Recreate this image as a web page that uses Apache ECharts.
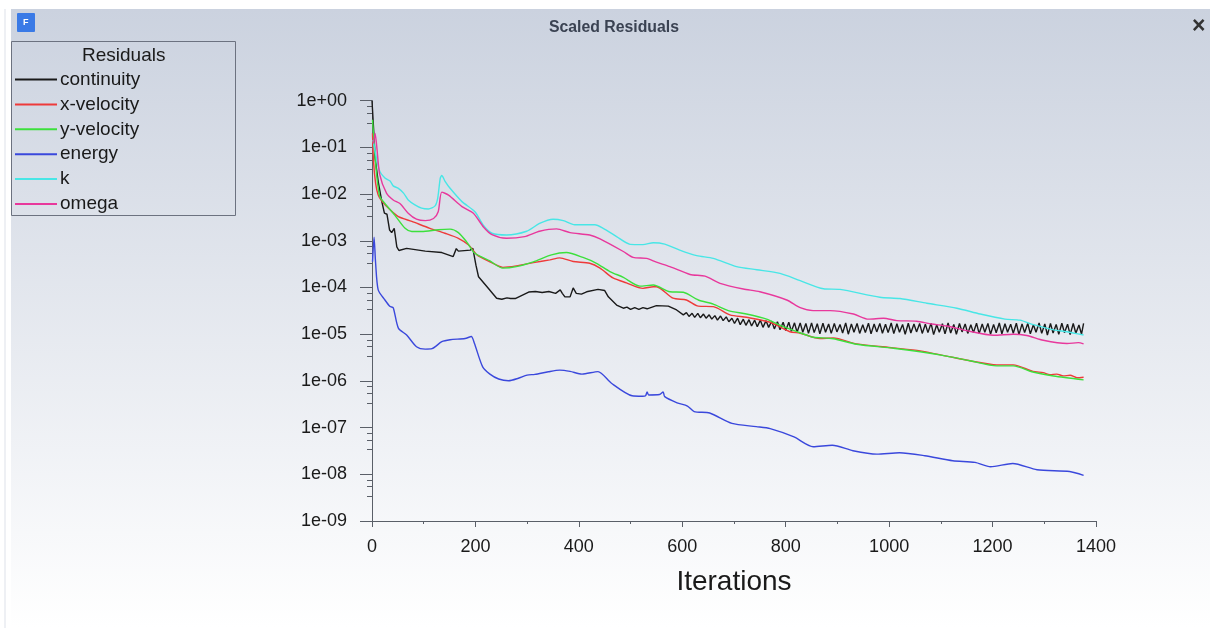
<!DOCTYPE html>
<html><head><meta charset="utf-8"><style>html,body{margin:0;padding:0;background:#fff}#c{width:1210px;height:628px}</style>
<script src="https://cdn.jsdelivr.net/npm/echarts@6/dist/echarts.min.js"></script></head><body><div id="c"></div>
<script>
const seriesNames = ['continuity','x-velocity','y-velocity','energy','k','omega'];
const yTickLabels = ['1e-09','1e-08','1e-07','1e-06','1e-05','1e-04','1e-03','1e-02','1e-01','1e+00'];
const yMinorFactors = [0.77,0.55,0.34];

const continuityIter = [0,3,6,12,19,24,29,34,38,43,48,52,67,103,135,157,163,167,190,195,201,206,222,241,251,261,268,277,303,316,329,342,355,364,368,373,383,389,395,405,415,437,450,457,473,486,493,500,508,516,524,532,550,573,589,
602,608,613,619,624,630,635,641,646,652,657,663,668,674,679,685,690,696,701,707,712,718,723,729,734,740,745,751,756,762,767,773,778,784,789,795,800,806,811,817,822,828,833,839,844,
850,855,861,866,872,877,883,888,894,899,905,910,916,921,927,932,938,943,949,954,960,965,971,976,982,987,993,998,1004,1009,1015,1020,1026,1031,1037,1042,1048,1053,1059,1064,1070,1075,1081,1086,1092,1097,1103,1108,1114,1119,1125,1130,1136,1141,1147,1152,1158,1163,1169,1174,1180,1185,1191,1196,1202,1207,1213,1218,1224,1229,1235,1240,1246,1251,1257,1262,1268,1273,1279,1284,1290,1295,1301,1306,1312,1317,1323,1328,1334,1339,1345,1350,1356,1361,1367,1372,1376];
const continuityValues = [1,2.6e-1,5.9e-2,1.85e-2,6.9e-3,3.9e-3,3.7e-3,1.7e-3,1.5e-3,1.85e-3,7.4e-4,6.2e-4,6.9e-4,6e-4,5.6e-4,4.6e-4,6.8e-4,6e-4,6.3e-4,6.9e-4,3e-4,1.7e-4,1.05e-4,5.9e-5,5.6e-5,6e-5,5.8e-5,5.8e-5,8e-5,8.2e-5,7.8e-5,8.2e-5,7.5e-5,8.9e-5,7.5e-5,6.3e-5,6.3e-5,9.8e-5,7.5e-5,7.2e-5,8.1e-5,9.1e-5,8.6e-5,6.3e-5,4.2e-5,3.6e-5,3.8e-5,3.4e-5,3.7e-5,3.4e-5,3.7e-5,3.5e-5,4.1e-5,4e-5,3.3e-5,
2.6e-5,2.9e-5,2.4e-5,2.8e-5,2.3e-5,2.8e-5,2.25e-5,2.7e-5,2.2e-5,2.6e-5,2.1e-5,2.5e-5,2e-5,2.45e-5,1.95e-5,2.35e-5,1.85e-5,2.2e-5,1.7e-5,2.2e-5,1.6e-5,2.1e-5,1.55e-5,2.05e-5,1.5e-5,2e-5,1.45e-5,2e-5,1.4e-5,1.95e-5,1.4e-5,1.9e-5,1.3e-5,1.85e-5,1.25e-5,1.8e-5,1.2e-5,1.8e-5,1.15e-5,1.75e-5,1.1e-5,1.75e-5,1.1e-5,1.7e-5,1.05e-5,
1.75e-5,1.08e-5,1.68e-5,1.02e-5,1.72e-5,1.1e-5,1.65e-5,1.04e-5,1.7e-5,1.12e-5,1.62e-5,1.06e-5,1.74e-5,1e-5,1.66e-5,1.1e-5,1.7e-5,1.04e-5,1.6e-5,1.08e-5,1.72e-5,1.02e-5,1.66e-5,1.12e-5,1.7e-5,1.05e-5,1.63e-5,1.08e-5,1.74e-5,1.03e-5,1.68e-5,1.1e-5,1.62e-5,1e-5,1.72e-5,1.06e-5,1.66e-5,1.12e-5,1.7e-5,1.04e-5,1.64e-5,1.08e-5,1.72e-5,.98e-5,1.6e-5,1.1e-5,1.68e-5,1.02e-5,1.74e-5,1.06e-5,1.62e-5,1e-5,1.7e-5,1.12e-5,1.66e-5,1.04e-5,1.6e-5,1.08e-5,1.72e-5,1.03e-5,1.66e-5,1.1e-5,1.7e-5,1e-5,1.62e-5,1.07e-5,1.74e-5,1.02e-5,1.68e-5,1.1e-5,1.64e-5,1.05e-5,1.72e-5,.98e-5,1.66e-5,1.08e-5,1.7e-5,1.02e-5,1.6e-5,1.1e-5,1.74e-5,1.04e-5,1.66e-5,.96e-5,1.7e-5,1.06e-5,1.62e-5,1e-5,1.72e-5,1.08e-5,1.64e-5,.98e-5,1.7e-5,1.05e-5,1.58e-5,1e-5,1.7e-5,1.04e-5,1.3e-5];

const xVelIter = [1,3,7,12,19,35,51,77,112,141,167,187,203,228,253,279,312,344,363,389,421,441,466,492,524,544,550,582,608,631,660,692,724,770,808,828,866,892,937,1008,1060,1111,1156,1208,1240,1278,1298,1311,1324,1337,1350,1363,1376];
const xVelValues = [2e-1,4.9e-2,1.7e-2,9.5e-3,7.1e-3,4.6e-3,3.3e-3,2.6e-3,1.85e-3,1.45e-3,1.13e-3,8.1e-4,5e-4,3.55e-4,2.7e-4,2.9e-4,3.4e-4,3.9e-4,4.3e-4,3.6e-4,3.3e-4,2.6e-4,1.6e-4,1.26e-4,9.6e-5,1.04e-4,1.04e-4,5.9e-5,5.4e-5,4e-5,3.9e-5,2.6e-5,2.3e-5,1.8e-5,1.13e-5,1.05e-5,8.1e-6,8.3e-6,6.2e-6,5.1e-6,4.4e-6,3.4e-6,2.7e-6,2.2e-6,2.2e-6,1.6e-6,1.5e-6,1.36e-6,1.4e-6,1.28e-6,1.32e-6,1.17e-6,1.2e-6];

const yVelIter = [1,4,9,15,25,44,64,77,96,128,151,167,183,199,228,253,279,312,347,376,408,434,460,486,518,544,576,602,631,660,689,724,763,795,840,853,892,937,1008,1060,1111,1156,1208,1240,1278,1318,1376];
const yVelValues = [3.9e-1,1.3e-1,2.6e-2,8.9e-3,6.3e-3,3.55e-3,1.85e-3,1.58e-3,1.58e-3,1.73e-3,1.78e-3,1.5e-3,9.5e-4,5.4e-4,3.7e-4,2.6e-4,2.8e-4,3.55e-4,5e-4,5.6e-4,4.4e-4,3.3e-4,2.2e-4,1.65e-4,1.07e-4,1.13e-4,8.1e-5,7.9e-5,5.4e-5,4.4e-5,3.2e-5,2.7e-5,2.1e-5,1.45e-5,9.6e-6,8.6e-6,8e-6,6.1e-6,5e-6,4.2e-6,3.4e-6,2.7e-6,2.1e-6,2.1e-6,1.55e-6,1.27e-6,1.05e-6];

const energyIter = [1,4,7,12,25,35,41,51,67,86,103,116,135,151,180,192,198,214,228,245,264,283,300,315,341,363,383,406,437,463,503,523,529,532,535,556,563,566,590,610,623,653,696,743,770,816,853,890,930,976,1020,1069,1123,1166,1196,1239,1286,1349,1376];
const energyValues = [3.55e-4,1.2e-3,3.3e-4,8.9e-5,5.4e-5,3.9e-5,3.7e-5,1.35e-5,9.6e-6,5.4e-6,4.8e-6,4.9e-6,6.9e-6,7.6e-6,8.1e-6,8.9e-6,6.4e-6,2e-6,1.4e-6,1.1e-6,1.01e-6,1.14e-6,1.33e-6,1.38e-6,1.57e-6,1.7e-6,1.6e-6,1.4e-6,1.58e-6,8.9e-7,4.8e-7,4.7e-7,4.8e-7,5.8e-7,5e-7,5.1e-7,5.8e-7,4.6e-7,3.4e-7,2.9e-7,2.2e-7,2.05e-7,1.23e-7,1.05e-7,9.5e-8,6.3e-8,3.9e-8,4.2e-8,3.2e-8,2.7e-8,2.9e-8,2.5e-8,1.95e-8,1.8e-8,1.45e-8,1.7e-8,1.25e-8,1.15e-8,9.5e-9];

const kIter = [2,14,25,35,41,51,61,70,83,96,109,122,127,132,135,141,151,174,199,216,232,260,299,324,350,370,392,431,447,473,499,524,544,566,595,628,660,705,744,789,828,873,905,982,1021,1073,1131,1176,1224,1253,1279,1318,1344,1376];
const kValues = [1.45e-1,3.3e-2,2.2e-2,1.9e-2,1.5e-2,1.33e-2,1.05e-2,7.5e-3,5.9e-3,5e-3,4.8e-3,5.6e-3,8.1e-3,2.2e-2,2.5e-2,1.9e-2,1.33e-2,6.9e-3,4.2e-3,2.1e-3,1.45e-3,1.33e-3,1.6e-3,2.35e-3,2.9e-3,2.7e-3,2.2e-3,2.2e-3,1.85e-3,1.23e-3,8.4e-4,8.3e-4,9.1e-4,8.5e-4,6.3e-4,4.8e-4,4.2e-4,2.8e-4,2.4e-4,2e-4,1.4e-4,9.4e-5,9.1e-5,6.2e-5,5.8e-5,4.6e-5,3.6e-5,2.7e-5,2.1e-5,2e-5,1.6e-5,1.24e-5,1.13e-5,9.6e-6];

const omegaIter = [3,6,9,15,28,41,54,70,86,103,119,128,135,148,174,196,216,232,260,295,324,357,383,421,441,486,505,531,550,576,615,644,673,718,750,802,828,853,886,931,960,989,1015,1053,1082,1111,1150,1202,1240,1266,1298,1344,1366,1376];
const omegaValues = [1.2e-1,2e-1,1.1e-1,2.6e-2,1.05e-2,7.5e-3,6.3e-3,3.9e-3,2.9e-3,2.7e-3,3e-3,4.2e-3,1.1e-2,9.5e-3,5.4e-3,3.9e-3,1.95e-3,1.35e-3,1.13e-3,1.23e-3,1.6e-3,1.8e-3,1.5e-3,1.33e-3,1.1e-3,5.9e-4,4.4e-4,4.2e-4,3.5e-4,2.8e-4,1.9e-4,1.75e-4,1.23e-4,9.3e-5,8.1e-5,5.4e-5,3.7e-5,3.2e-5,3.2e-5,2.7e-5,2.1e-5,2.2e-5,1.95e-5,1.9e-5,1.65e-5,1.5e-5,1.19e-5,9.5e-6,1e-5,9.4e-6,7.4e-6,6.3e-6,6.6e-6,6.2e-6];

const seriesColors = ['#1a1a1a','#ee3a3a','#3ce03c','#3a48dc','#48e6e6','#e8389c'];
const zip = (a,b) => a.map((v,i)=>[v,b[i]]);
const seriesData = [zip(continuityIter,continuityValues),zip(xVelIter,xVelValues),zip(yVelIter,yVelValues),zip(energyIter,energyValues),zip(kIter,kValues),zip(omegaIter,omegaValues)];
const minorValues = [];
yTickLabels.slice(1).forEach(l=>yMinorFactors.forEach(f=>minorValues.push([0,Number(l)*f])));

const font = '"Liberation Sans", Arial, sans-serif';
const chart = echarts.init(document.getElementById('c'),null,{renderer:'canvas'});
chart.setOption({
  animation:false,
  backgroundColor:'transparent',
  title:{text:'Scaled Residuals',left:544,top:15,textStyle:{fontFamily:font,fontSize:15.8,fontWeight:'bold',color:'#3a4252'}},
  graphic:[
    {type:'rect',z:-10,shape:{x:11,y:9,width:1199,height:619},style:{fill:new echarts.graphic.LinearGradient(0,0,0,1,[{offset:0,color:'#cbd2df'},{offset:1,color:'#ffffff'}])}},
    {type:'rect',z:-10,shape:{x:4,y:9,width:2,height:619},style:{fill:'#eef0f4'}},
    {type:'rect',z:-9,shape:{x:17,y:13,width:18,height:19,r:1},style:{fill:'#3a7ae6'}},
    {type:'text',z:-8,x:23,y:18,style:{text:'F',fill:'#fff',font:'bold 9px '+font}},
    {type:'text',z:-8,x:1192,y:15,style:{text:'×',fill:'#333',font:'bold 23px '+font}},
    {type:'rect',z:-8,shape:{x:11.5,y:41.5,width:224,height:174},style:{fill:'transparent',stroke:'#6c7280',lineWidth:1}},
    {type:'text',z:-7,x:82,y:46,style:{text:'Residuals',fill:'#1a1a1a',font:'19px '+font}}
  ],
  legend:{show:true,data:seriesNames,orient:'vertical',left:14,top:70,itemWidth:42,itemHeight:14,itemGap:5.9,padding:0,
    itemStyle:{color:'rgba(0,0,0,0)',opacity:0,borderWidth:0},
    textStyle:{fontFamily:font,fontSize:19,color:'#1a1a1a',padding:[0,0,0,-2]},selectedMode:false},
  grid:{left:372,right:114,top:100.7,bottom:107,containLabel:false},
  xAxis:{type:'value',min:0,max:1400,interval:200,name:'Iterations',nameLocation:'middle',nameGap:47,
    nameTextStyle:{fontFamily:font,fontSize:28,color:'#1a1a1a'},
    axisLine:{show:true,lineStyle:{color:'#5a5f68',width:1}},axisTick:{show:true,length:6,lineStyle:{color:'#5a5f68'}},
    minorTick:{show:true,splitNumber:2,length:3,lineStyle:{color:'#5a5f68'}},splitLine:{show:false},
    axisLabel:{fontFamily:font,fontSize:18,color:'#1a1a1a',margin:17,formatter:v=>String(v)}},
  yAxis:{type:'log',logBase:10,min:1e-9,max:1,
    axisLine:{show:true,onZero:false,lineStyle:{color:'#5a5f68',width:1}},axisTick:{show:true,length:12,lineStyle:{color:'#5a5f68'}},
    splitLine:{show:false},minorTick:{show:false},
    axisLabel:{fontFamily:font,fontSize:18,color:'#1a1a1a',margin:25,
      formatter:v=>yTickLabels[Math.round(Math.log10(v))+9]}},
  series:[
    ...seriesNames.map((n,i)=>({name:n,type:'line',data:seriesData[i],symbol:'none',showSymbol:false,smooth:(i===0?false:0.25),clip:false,
      lineStyle:{color:seriesColors[i],width:1.4},itemStyle:{color:seriesColors[i]},emphasis:{disabled:true},z:2+i})),
    {name:'minor ticks',type:'custom',data:minorValues,clip:false,silent:true,z:1,
      renderItem:(p,api)=>{const c=api.coord([api.value(0),api.value(1)]);
        return {type:'line',shape:{x1:c[0]-5,y1:Math.round(c[1])+.5,x2:c[0],y2:Math.round(c[1])+.5},style:{stroke:'#5a5f68',lineWidth:1}};},
      encode:{x:0,y:1}}
  ]
});
</script></body></html>
